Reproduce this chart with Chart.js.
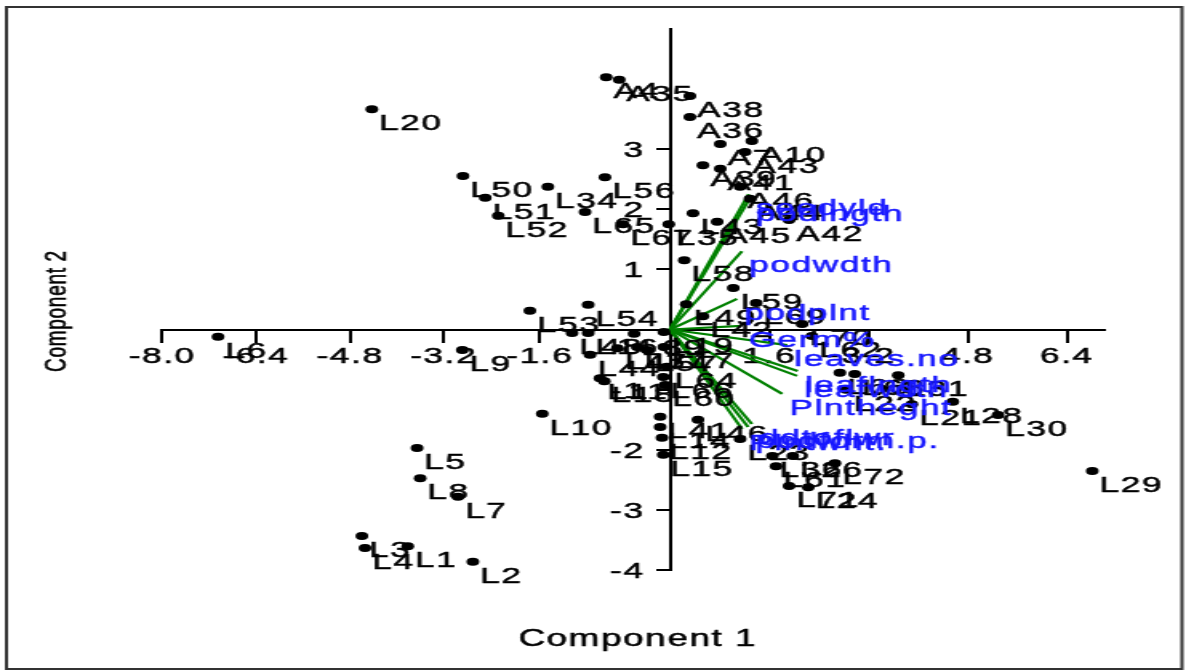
<!DOCTYPE html>
<html>
<head>
<meta charset="utf-8">
<script src="https://cdn.jsdelivr.net/npm/chart.js@4.4.1/dist/chart.umd.min.js"></script>
<style>
  html, body { margin: 0; padding: 0; background: #fff; overflow: hidden; }
  /* the reference picture is stretched sideways, so the canvas is too */
  #biplot { display: block; transform-origin: 0 0; }
</style>
</head>
<body>
<canvas id="biplot" width="741" height="672"></canvas>
<script>
// ---- data (component scores) ----
const genoLabels = ['A4', 'A35', 'A38', 'A36', 'A7', 'A10', 'A43', 'A39', 'A41', 'A46', 'A44', 'A42', 'A45',
    'L43', 'L35', 'L67', 'L65', 'L56', 'L34', 'L50', 'L51', 'L52', 'L20', 'L58', 'L59', 'L69', 'L49', 'L42',
    'L70', 'L53', 'L54', 'L6', 'L9', 'L48', 'L16', 'L39', 'L44', 'L47', 'L37', 'L57', 'L64', 'L19', 'L17',
    'L11', 'L18', 'L66', 'L60', 'L10', 'L41', 'L14', 'L12', 'L15', 'L46', 'L23', 'L36', 'L26', 'L72', 'L61',
    'L71', 'L24', 'L62', 'L63', 'L68', 'L31', 'L22', 'L21', 'L28', 'L30', 'L29', 'L5', 'L8', 'L7', 'L3',
    'L4', 'L1', 'L2'];
const genoPc1 = [-1.03, -0.82, 0.32, 0.32, 0.81, 1.32, 1.21, 0.53, 0.81, 1.13, 1.29, 1.92, 0.76,
    0.37, -0.02, -0.76, -1.37, -1.05, -1.97, -3.34, -2.98, -2.77, -4.81, 0.23, 1.02, 1.39, 0.26, 0.53,
    2.13, -2.26, -1.32, -7.29, -3.35, -1.58, -1.32, -0.58, -1.29, -0.85, -0.53, -0.37, -0.05, -0.10, -0.10,
    -1.13, -1.06, -0.11, -0.08, -2.06, -0.16, -0.16, -0.13, -0.11, 0.45, 1.13, 1.65, 1.98, 2.66, 1.71,
    1.92, 2.23, 2.29, 2.74, 2.98, 3.68, 2.84, 3.90, 4.56, 5.29, 6.81, -4.08, -4.03, -3.42, -4.97,
    -4.92, -4.23, -3.18];
const genoPc2 = [4.19, 4.15, 3.88, 3.53, 3.08, 3.13, 2.95, 2.73, 2.67, 2.37, 2.17, 1.82, 1.79,
    1.93, 1.75, 1.75, 1.95, 2.53, 2.37, 2.55, 2.19, 1.89, 3.66, 1.15, 0.69, 0.44, 0.42, 0.22,
    0.09, 0.31, 0.41, -0.12, -0.34, -0.06, -0.06, -0.07, -0.42, -0.31, -0.29, -0.34, -0.62, -0.04, -0.29,
    -0.81, -0.86, -0.79, -0.92, -1.40, -1.45, -1.62, -1.80, -2.08, -1.50, -1.82, -2.10, -2.10, -2.22, -2.27,
    -2.60, -2.62, -0.11, -0.72, -0.74, -0.76, -1.00, -1.24, -1.20, -1.42, -2.35, -1.97, -2.47, -2.78, -3.43,
    -3.63, -3.60, -3.86];

// trait loadings (green arrows)
const traitLabels = ['seedyld', 'podlngth', 'podwdth', 'podplnt', 'Germ%', 'leaves.no', 'leaflngth',
    'leafwdth', 'Plntheght', 'ddtoflwr', 'podform.p.', 'Plntwht.'];
const traitPc1 = [1.27, 1.27, 1.16, 1.08, 1.15, 1.89, 2.06, 2.05, 1.81, 1.32, 1.26, 1.16];
const traitPc2 = [2.25, 2.15, 1.30, 0.51, 0.06, -0.26, -0.69, -0.77, -1.07, -1.57, -1.62, -1.65];

// axis ticks (the left half of the original axis is unevenly spaced)
const xTickLabels = ['-8.0', '-6.4', '-4.8', '-3.2', '-1.6', '1.6', '3.2', '4.8', '6.4'];
const xTickAt = [-8.19, -6.68, -5.16, -3.65, -2.10, 1.6, 3.2, 4.8, 6.4];
const yTickLabels = ['-4', '-3', '-2', '-1', '1', '2', '3'];
const yTickAt = [-4, -3, -2, -1, 1, 2, 3];

const S = 1186 / 741;
document.getElementById('biplot').style.transform = `scaleX(${S})`;

const FONT = '"Liberation Sans", Arial, sans-serif';
const BLUE = '#1717ff';
const GREEN = '#008000';

// filled text with a thin outline, the original strokes are heavier
function heavyText(ctx, txt, x, y) {
    ctx.fillText(txt, x, y);
    ctx.strokeText(txt, x, y);
}

// text drawn on the canvas: ticks, point names, trait names, axis titles, frame
const biplotText = {
    id: 'biplotText',
    beforeDatasetsDraw(chart) {
        const { ctx, scales: { x, y } } = chart;
        const x0 = x.getPixelForValue(0);
        const y0 = y.getPixelForValue(0);
        ctx.save();
        ctx.fillStyle = '#000';
        ctx.strokeStyle = '#000';
        ctx.lineWidth = 0.5;
        ctx.font = '22px ' + FONT;
        ctx.letterSpacing = '1px';
        ctx.textAlign = 'center';
        ctx.textBaseline = 'alphabetic';
        xTickAt.forEach((v, i) => heavyText(ctx, xTickLabels[i], x.getPixelForValue(v), y0 + 33));
        ctx.textAlign = 'right';
        yTickAt.forEach((v, i) => heavyText(ctx, yTickLabels[i], x0 - 16, y.getPixelForValue(v) + 8));
        ctx.restore();
    },
    afterDatasetsDraw(chart) {
        const { ctx, scales: { x, y } } = chart;
        ctx.save();
        ctx.font = '22px ' + FONT;
        ctx.letterSpacing = '1px';
        ctx.lineWidth = 0.5;
        ctx.textAlign = 'left';
        ctx.textBaseline = 'alphabetic';

        ctx.fillStyle = '#000';
        ctx.strokeStyle = '#000';
        genoLabels.forEach((lab, i) => {
            heavyText(ctx, lab, x.getPixelForValue(genoPc1[i]) + 4.5, y.getPixelForValue(genoPc2[i]) + 21);
        });
        ctx.fillStyle = BLUE;
        ctx.strokeStyle = BLUE;
        traitLabels.forEach((lab, i) => {
            heavyText(ctx, lab, x.getPixelForValue(traitPc1[i]) + 4.5, y.getPixelForValue(traitPc2[i]) + 21);
        });

        // axis titles
        ctx.fillStyle = '#000';
        ctx.strokeStyle = '#000';
        ctx.textAlign = 'center';
        ctx.font = '23px ' + FONT;
        heavyText(ctx, 'Component 1', 398.5, 646);
        ctx.translate(40.5, 311);
        ctx.rotate(-Math.PI / 2);
        ctx.font = '19px ' + FONT;
        ctx.letterSpacing = '0.7px';
        heavyText(ctx, 'Component 2', 0, 0);
        ctx.restore();

        // outer frame
        ctx.save();
        ctx.strokeStyle = '#333';
        ctx.lineWidth = 2;
        ctx.strokeRect(4, 7, 734.5, 662);
        ctx.restore();
    }
};

const datasets = [{
    label: 'genotypes',
    data: genoPc1.map((v, i) => ({ x: v, y: genoPc2[i] })),
    backgroundColor: '#000',
    borderWidth: 0,
    pointRadius: 4,
    order: 0
}];
traitLabels.forEach((lab, i) => {
    datasets.push({
        label: lab,
        data: [{ x: 0, y: 0 }, { x: traitPc1[i], y: traitPc2[i] }],
        showLine: true,
        borderColor: GREEN,
        borderWidth: 2.2,
        pointRadius: 0,
        fill: false,
        order: 1
    });
});

new Chart(document.getElementById('biplot').getContext('2d'), {
    type: 'scatter',
    data: { datasets },
    options: {
        responsive: false,
        animation: false,
        devicePixelRatio: 1,
        layout: { padding: { left: 101.2, right: 50.6, top: 28.5, bottom: 101.7 } },
        plugins: { legend: { display: false }, tooltip: { enabled: false } },
        scales: {
            x: {
                type: 'linear', min: -8.194, max: 7.016,
                position: { y: 0 },
                ticks: { display: false },
                grid: { drawOnChartArea: false, drawTicks: true, tickLength: 12, color: '#000', lineWidth: 2 },
                border: { display: true, color: '#000', width: 2 },
                afterBuildTicks: s => { s.ticks = xTickAt.map(v => ({ value: v })); },
                afterFit: s => { s.height = 0; }
            },
            y: {
                type: 'linear', min: -4, max: 5,
                position: { x: 0 },
                ticks: { display: false },
                grid: { drawOnChartArea: false, drawTicks: true, tickLength: 8, color: '#000', lineWidth: 2 },
                border: { display: true, color: '#000', width: 2 },
                afterBuildTicks: s => { s.ticks = yTickAt.map(v => ({ value: v })); },
                afterFit: s => { s.width = 0; }
            }
        }
    },
    plugins: [biplotText]
});
</script>
</body>
</html>
